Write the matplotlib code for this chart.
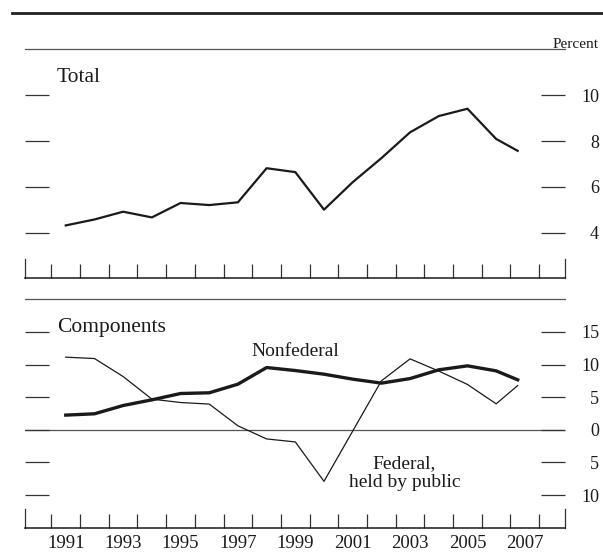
import matplotlib
matplotlib.use("Agg")
import matplotlib.pyplot as plt
from matplotlib.lines import Line2D
from matplotlib.ticker import FixedLocator, FuncFormatter


# last observation is a partial year (2007), plotted a bit before year center
years = [1991, 1992, 1993, 1994, 1995, 1996, 1997, 1998, 1999,
         2000, 2001, 2002, 2003, 2004, 2005, 2006, 2006.75]

total = [4.31, 4.57, 4.91, 4.66, 5.29, 5.20, 5.32, 6.81, 6.64,
         5.00, 6.20, 7.25, 8.38, 9.09, 9.41, 8.09, 7.57]

nonfederal = [2.25, 2.45, 3.72, 4.59, 5.56, 5.67, 6.99, 9.54, 9.08,
              8.52, 7.76, 7.15, 7.85, 9.19, 9.80, 9.03, 7.66]

federal = [11.13, 10.92, 8.16, 4.70, 4.18, 3.94, 0.61, -1.40, -1.86,
           -7.90, -0.20, 7.50, 10.87, 9.00, 6.95, 3.98, 6.77]

total_ticks = [4, 6, 8, 10]
comp_ticks = [-10, -5, 0, 5, 10, 15]
year_labels = [1991, 1993, 1995, 1997, 1999, 2001, 2003, 2005, 2007]
year_bounds = [y - 0.5 for y in range(1991, 2009)]

plt.rcParams["font.family"] = ["Liberation Serif", "DejaVu Serif"]
ink = "#1a1a1a"
tick_col = "#333333"

fig = plt.figure(figsize=(6.03, 5.53), dpi=100)
ax1 = fig.add_axes([0.0415, 0.4968, 0.8955, 0.4137])
ax2 = fig.add_axes([0.0415, 0.0458, 0.8955, 0.4130])


def style(ax, yticks, ylim, show_years):
    ax.set_xlim(1989.58, 2008.40)
    ax.set_ylim(*ylim)
    ax.spines["top"].set_color("#555555")
    ax.spines["top"].set_linewidth(0.9)
    ax.spines["bottom"].set_color(ink)
    ax.spines["bottom"].set_linewidth(1.1)
    edge = ylim[0] + 0.083 * (ylim[1] - ylim[0])
    for side in ["left", "right"]:
        ax.spines[side].set_bounds(ylim[0], edge)
        ax.spines[side].set_color(tick_col)
        ax.spines[side].set_linewidth(0.9)

    ax.yaxis.set_major_locator(FixedLocator(yticks))
    ax.yaxis.set_major_formatter(FuncFormatter(lambda v, p: f"{abs(v):g}"))
    ax.tick_params(axis="y", which="major", direction="in", length=17.3,
                   width=0.9, color=tick_col, left=True, right=True,
                   labelleft=False, labelright=True, pad=24.5,
                   labelsize=13, labelcolor=ink)
    for lab in ax.get_yticklabels():
        lab.set_horizontalalignment("right")

    ax.xaxis.set_major_locator(FixedLocator(year_labels))
    ax.xaxis.set_minor_locator(FixedLocator(year_bounds))
    ax.tick_params(axis="x", which="minor", direction="in", length=10,
                   width=0.9, color=tick_col)
    ax.tick_params(axis="x", which="major", length=0, pad=5,
                   labelsize=13.5, labelcolor=ink, labelbottom=show_years)


style(ax1, total_ticks, (2, 12), False)
style(ax2, comp_ticks, (-15, 20), True)

ax1.plot(years, total, color=ink, lw=1.6)
ax1.text(0.0593, 0.858, "Total", transform=ax1.transAxes, fontsize=15.5,
         color=ink, va="baseline")

ax2.axhline(0, color="#555555", lw=0.9, zorder=1)
ax2.plot(years, nonfederal, color=ink, lw=2.4, zorder=3)
ax2.plot(years, federal, color=ink, lw=0.9, zorder=2)
ax2.text(0.0593, 0.857, "Components", transform=ax2.transAxes, fontsize=15.5,
         color=ink, va="baseline")
ax2.text(1999.0, 11.3, "Nonfederal", fontsize=14, color=ink,
         ha="center", va="baseline")
ax2.text(2002.8, -5.8, "Federal,", fontsize=14, color=ink,
         ha="center", va="baseline")
ax2.text(2002.8, -8.7, "held by public", fontsize=14, color=ink,
         ha="center", va="baseline")

fig.text(0.992, 1 - 44 / 553, "Percent", ha="right", va="center",
         fontsize=11, color=ink)
fig.add_artist(Line2D([12 / 603, 1], [1 - 13 / 553] * 2,
                      transform=fig.transFigure, lw=2, color="#222222"))

fig.savefig("out.png", dpi=100)
